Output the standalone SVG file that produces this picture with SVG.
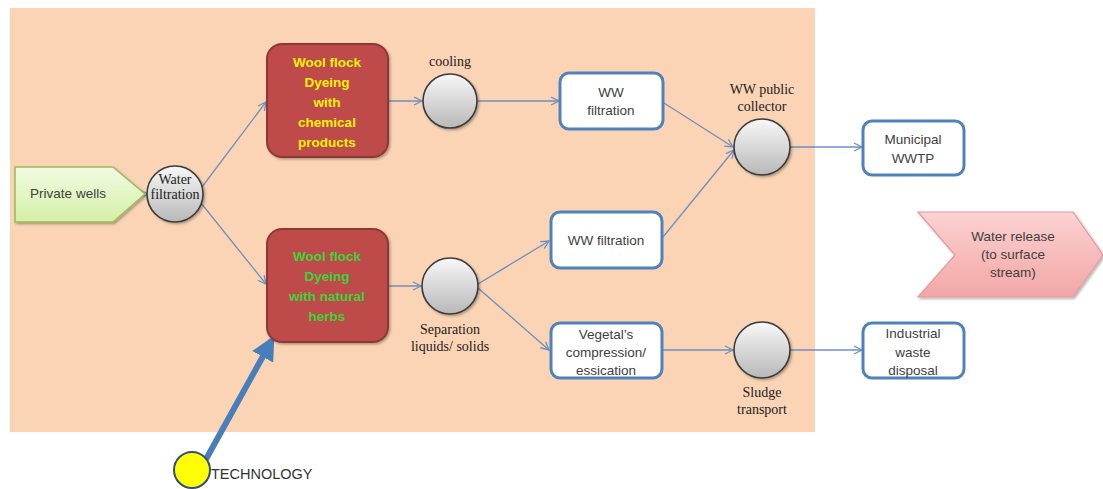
<svg xmlns="http://www.w3.org/2000/svg" width="1103" height="489" viewBox="0 0 1103 489">
  <defs>
    <linearGradient id="ballFill" x1="0" y1="0" x2="0" y2="1">
      <stop offset="0" stop-color="#f8f8f8"/>
      <stop offset="1" stop-color="#b8b8b8"/>
    </linearGradient>
    <linearGradient id="greenFill" x1="0" y1="0" x2="0" y2="1">
      <stop offset="0" stop-color="#f1fbe2"/>
      <stop offset="1" stop-color="#d4efa6"/>
    </linearGradient>
    <linearGradient id="pinkFill" x1="0" y1="0" x2="0" y2="1">
      <stop offset="0" stop-color="#fbd2d2"/>
      <stop offset="1" stop-color="#f3a6a6"/>
    </linearGradient>
    <marker id="open" viewBox="0 0 10 10" refX="9" refY="5" markerWidth="10" markerHeight="10" markerUnits="userSpaceOnUse" orient="auto">
      <path d="M1,1 L9,5 L1,9" fill="none" stroke="#6f8fbf" stroke-width="1.3"/>
    </marker>
    <marker id="bold" viewBox="0 0 10 10" refX="8" refY="5" markerWidth="4" markerHeight="4" orient="auto">
      <path d="M0,0 L10,5 L0,10 Z" fill="#4a7ebb"/>
    </marker>
    <filter id="shadow" x="-20%" y="-20%" width="150%" height="150%">
      <feDropShadow dx="1.5" dy="1.5" stdDeviation="1.2" flood-color="#000" flood-opacity="0.3"/>
    </filter>
  </defs>
  <style>
    .ball { fill: url(#ballFill); stroke: #3a3a3a; stroke-width: 1.6; filter: url(#shadow); }
    .wbox { fill: #ffffff; stroke: #4f81bd; stroke-width: 3; }
    .dye { fill: #be4b48; stroke: #8c3836; stroke-width: 2; filter: url(#shadow); }
    .flow { fill: none; stroke: #6f8fbf; stroke-width: 1.3; marker-end: url(#open); }
    .sans { font-family: "Liberation Sans", Arial, sans-serif; font-size: 13.5px; fill: #404040; text-anchor: middle; }
    .serif { font-family: "Liberation Serif", "Times New Roman", serif; font-size: 14px; fill: #222222; text-anchor: middle; }
    .yel { font-family: "Liberation Sans", Arial, sans-serif; font-size: 13.5px; font-weight: bold; fill: #fbf20c; text-anchor: middle; }
    .grn { font-family: "Liberation Sans", Arial, sans-serif; font-size: 13.5px; font-weight: bold; fill: #3bd43b; text-anchor: middle; }
  </style>

  <rect x="0" y="0" width="1103" height="489" fill="#ffffff"/>
  <!-- plant boundary -->
  <rect id="plant" x="10" y="8" width="805" height="424" fill="#fad4b5"/>

  <!-- flows -->
  <g id="connectors">
    <line class="flow" x1="145" y1="194" x2="148" y2="194"/>
    <line class="flow" x1="202" y1="187" x2="266" y2="102"/>
    <line class="flow" x1="201" y1="203" x2="266" y2="284"/>
    <line class="flow" x1="388" y1="101" x2="422" y2="101"/>
    <line class="flow" x1="478" y1="101" x2="559" y2="101"/>
    <line class="flow" x1="664" y1="103" x2="733" y2="147"/>
    <line class="flow" x1="663" y1="237" x2="734" y2="150"/>
    <line class="flow" x1="388" y1="286" x2="421" y2="286"/>
    <line class="flow" x1="478" y1="284" x2="549" y2="241"/>
    <line class="flow" x1="478" y1="288" x2="549" y2="350"/>
    <line class="flow" x1="663" y1="350" x2="733" y2="350"/>
    <line class="flow" x1="790" y1="147" x2="862" y2="147"/>
    <line class="flow" x1="790" y1="350" x2="862" y2="350"/>
    <line x1="205" y1="461" x2="272" y2="340" stroke="#4a7ebb" stroke-width="6" marker-end="url(#bold)"/>
  </g>

  <g id="private-wells">
    <path d="M15,167 L113,167 L145,194 L113,222 L15,222 Z" fill="url(#greenFill)" stroke="#9bbb59" stroke-width="1.5" filter="url(#shadow)"/>
    <text class="sans" x="68" y="198">Private wells</text>
  </g>

  <g id="water-filtration">
    <circle class="ball" cx="175" cy="194" r="28"/>
    <text class="serif" x="175" y="184" font-size="11">Water</text>
    <text class="serif" x="175" y="199" font-size="11">filtration</text>
  </g>

  <g id="dye-chemical">
    <rect class="dye" x="267" y="44" width="121" height="113" rx="15"/>
    <text class="yel" x="327" y="67">Wool flock</text>
    <text class="yel" x="327" y="87">Dyeing</text>
    <text class="yel" x="327" y="107">with</text>
    <text class="yel" x="327" y="127">chemical</text>
    <text class="yel" x="327" y="147">products</text>
  </g>

  <g id="dye-natural">
    <rect class="dye" x="267" y="229" width="121" height="113" rx="15"/>
    <text class="grn" x="327" y="261">Wool  flock</text>
    <text class="grn" x="327" y="281">Dyeing</text>
    <text class="grn" x="327" y="301">with natural</text>
    <text class="grn" x="327" y="321">herbs</text>
  </g>

  <g id="technology">
    <circle cx="192" cy="470" r="18" fill="#ffff00" stroke="#2f4f7f" stroke-width="2"/>
    <text x="211" y="479" font-family="Liberation Sans, Arial, sans-serif" font-size="14.5" fill="#333333">TECHNOLOGY</text>
  </g>

  <g id="cooling">
    <circle class="ball" cx="450" cy="101" r="27"/>
    <text class="serif" x="450" y="66">cooling</text>
  </g>

  <g id="ww-filtration-1">
    <rect class="wbox" x="560" y="73" width="103" height="56" rx="9"/>
    <text class="sans" x="611" y="97">WW</text>
    <text class="sans" x="611" y="115">filtration</text>
  </g>

  <g id="ww-collector">
    <circle class="ball" cx="762" cy="147" r="28"/>
    <text class="serif" x="762" y="94" font-size="13">WW public</text>
    <text class="serif" x="762" y="111" font-size="13">collector</text>
  </g>

  <g id="separation">
    <circle class="ball" cx="450" cy="286" r="28"/>
    <text class="serif" x="450" y="334">Separation</text>
    <text class="serif" x="450" y="351">liquids/ solids</text>
  </g>

  <g id="ww-filtration-2">
    <rect class="wbox" x="551" y="212" width="111" height="56" rx="9"/>
    <text class="sans" x="606" y="245">WW filtration</text>
  </g>

  <g id="vegetal">
    <rect class="wbox" x="551" y="323" width="111" height="55" rx="9"/>
    <text class="sans" x="606" y="339">Vegetal’s</text>
    <text class="sans" x="606" y="357">compression/</text>
    <text class="sans" x="606" y="375">essication</text>
  </g>

  <g id="sludge">
    <circle class="ball" cx="762" cy="350" r="28"/>
    <text class="serif" x="762" y="397">Sludge</text>
    <text class="serif" x="762" y="414">transport</text>
  </g>

  <g id="municipal-wwtp">
    <rect class="wbox" x="863" y="121" width="101" height="54" rx="9"/>
    <text class="sans" x="913" y="144">Municipal</text>
    <text class="sans" x="913" y="163">WWTP</text>
  </g>

  <g id="water-release">
    <path d="M918,212 L1073,212 L1103,255 L1073,297 L918,297 L955,255 Z" fill="url(#pinkFill)" stroke="#e39a9a" stroke-width="1.2" filter="url(#shadow)"/>
    <text class="sans" x="1013" y="241">Water release</text>
    <text class="sans" x="1013" y="259">(to surface</text>
    <text class="sans" x="1013" y="277">stream)</text>
  </g>

  <g id="industrial-waste">
    <rect class="wbox" x="863" y="323" width="101" height="55" rx="9"/>
    <text class="sans" x="913" y="338">Industrial</text>
    <text class="sans" x="913" y="357">waste</text>
    <text class="sans" x="913" y="375">disposal</text>
  </g>
</svg>
